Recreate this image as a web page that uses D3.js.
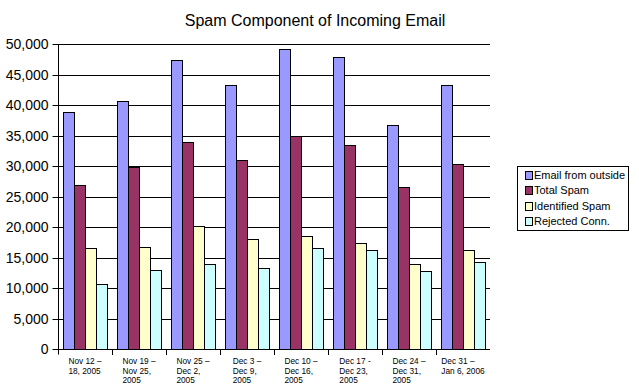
<!DOCTYPE html>
<html><head><meta charset="utf-8">
<script src="https://cdn.jsdelivr.net/npm/d3@7"></script>
<style>body{margin:0;background:#fff}svg{display:block}</style>
</head><body>
<script>
const categories = [
  ["Nov 12 –","18, 2005"],
  ["Nov 19 –","Nov 25,","2005"],
  ["Nov 25 –","Dec 2,","2005"],
  ["Dec 3 –","Dec 9,","2005"],
  ["Dec 10 –","Dec 16,","2005"],
  ["Dec 17 -","Dec 23,","2005"],
  ["Dec 24 –","Dec 31,","2005"],
  ["Dec 31 –","Jan 6, 2006"]
];
const seriesNames = ["Email from outside","Total Spam","Identified Spam","Rejected Conn."];
const emailFromOutside = [38800, 40600, 47300, 43300, 49100, 47800, 36800, 43300];
const totalSpam        = [26900, 29800, 34000, 31000, 35000, 33500, 26600, 30300];
const identifiedSpam   = [16600, 16800, 20100, 18000, 18600, 17400, 13900, 16300];
const rejectedConn     = [10600, 13000, 14000, 13200, 16500, 16300, 12800, 14200];
const yTicks = [0,5000,10000,15000,20000,25000,30000,35000,40000,45000,50000];
const colors = ["#9999FF","#993366","#FFFFCC","#CCFFFF"];
const series = [emailFromOutside,totalSpam,identifiedSpam,rejectedConn];

(function(){
const W=639,H=392;
const svg=d3.select("body").append("svg").attr("width",W).attr("height",H);
const pL=58,pR=490,pT=44,pB=349;
const x=d3.scaleBand().domain(d3.range(categories.length)).range([pL,pR]).padding(0);
const xs=d3.scaleBand().domain(d3.range(4)).range([0,x.bandwidth()]).paddingInner(0).paddingOuter(5/11);
const y=d3.scaleLinear().domain([0,50000]).range([pB,pT]);
const font="Liberation Sans, Arial, sans-serif";

svg.append("text").attr("x",315).attr("y",26).attr("text-anchor","middle")
  .attr("font-family",font).attr("font-size",16).attr("fill","#000")
  .text("Spam Component of Incoming Email");

// gridlines
svg.append("g").selectAll("line").data(yTicks.filter(d=>d>0)).join("line")
  .attr("x1",pL).attr("x2",pR).attr("y1",d=>Math.round(y(d))+0.5).attr("y2",d=>Math.round(y(d))+0.5)
  .attr("stroke","#000").attr("stroke-width",1);

// bars
const g=svg.append("g");
categories.forEach((c,i)=>{
  series.forEach((s,j)=>{
    const x0=Math.round(x(i)+xs(j)), x1=Math.round(x(i)+xs(j)+xs.bandwidth());
    const yt=Math.round(y(s[i]));
    g.append("rect").attr("x",x0+0.5).attr("y",yt+0.5).attr("width",x1-x0).attr("height",pB-yt)
      .attr("fill",colors[j]).attr("stroke","#000").attr("stroke-width",1);
  });
});

// y axis
const ya=svg.append("g").attr("transform",`translate(${pL+0.5},0.5)`)
  .call(d3.axisLeft(y).tickValues(yTicks).tickSize(6).tickPadding(4).tickFormat(d3.format(",")));
ya.select(".domain").attr("d",`M0,${pT}V${pB+5}`).attr("stroke","#000");
ya.selectAll(".tick line").attr("stroke","#000");
ya.selectAll("text").attr("font-family",font).attr("font-size",14).attr("fill","#000");
ya.selectAll(".tick").attr("transform",d=>`translate(0,${Math.round(y(d))})`);

// x axis
svg.append("line").attr("x1",pL).attr("x2",pR).attr("y1",pB+0.5).attr("y2",pB+0.5).attr("stroke","#000");
svg.append("g").selectAll("line").data(d3.range(1,categories.length)).join("line")
  .attr("x1",d=>Math.round(x(d))+0.5).attr("x2",d=>Math.round(x(d))+0.5)
  .attr("y1",pB).attr("y2",pB+6).attr("stroke","#000");

// x labels
categories.forEach((c,i)=>{
  const t=svg.append("text").attr("font-family",font).attr("font-size",8.3).attr("fill","#000");
  c.forEach((line,k)=>{
    t.append("tspan").attr("y",364+k*9.7).text(line);
  });
  let maxW=0;
  t.selectAll("tspan").each(function(){maxW=Math.max(maxW,this.getComputedTextLength());});
  const cx=x(i)+x.bandwidth()/2;
  t.selectAll("tspan").attr("x",cx-maxW/2);
});

// legend
const lg=svg.append("g");
lg.append("rect").attr("x",517.5).attr("y",166.5).attr("width",111).attr("height",64)
  .attr("fill","#fff").attr("stroke","#000");
seriesNames.forEach((n,j)=>{
  const cy=175+j*15.3;
  lg.append("rect").attr("x",525.5).attr("y",Math.round(cy-4)+0.5).attr("width",7).attr("height",8)
    .attr("fill",colors[j]).attr("stroke","#000");
  lg.append("text").attr("x",534).attr("y",cy+4).attr("font-family",font).attr("font-size",11)
    .attr("fill","#000").text(n);
});
})();
</script>
</body></html>
